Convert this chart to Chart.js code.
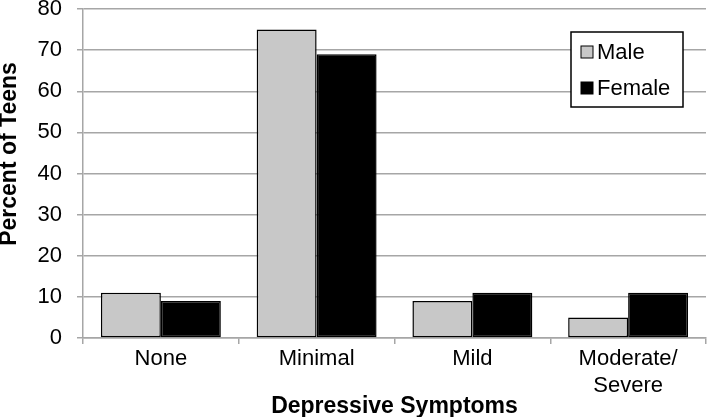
<!DOCTYPE html>
<html>
<head>
<meta charset="utf-8">
<script src="https://cdn.jsdelivr.net/npm/chart.js@4.4.0/dist/chart.umd.min.js"></script>
<style>
  html, body { margin: 0; padding: 0; background: #fff; }
  #wrap { width: 707px; height: 417px; position: relative; }
</style>
</head>
<body>
<div id="wrap"><canvas id="chart"></canvas></div>
<script>
// Data
const categories = ['None', 'Minimal', 'Mild', ['Moderate/', 'Severe']];
const maleValues = [11, 75, 9, 5];
const femaleValues = [9, 69, 11, 11];
const yTicks = [0, 10, 20, 30, 40, 50, 60, 70, 80];
const yTitle = 'Percent of Teens';

const FONT = '"Liberation Sans", Arial, sans-serif';
const GRID = '#a6a6a6';

// Legend boxed inside the plot, top right, plus the y title (sits a bit above centre)
const extras = {
    id: 'extras',
    afterDraw(chart) {
        const ctx = chart.ctx;
        const x = 571, y = 32, w = 112, h = 75;
        ctx.save();
        ctx.fillStyle = '#fff';
        ctx.fillRect(x, y, w, h);
        ctx.strokeStyle = '#000';
        ctx.lineWidth = 1.5;
        ctx.strokeRect(x, y, w, h);
        ctx.font = '22px ' + FONT;
        ctx.textBaseline = 'middle';
        chart.data.datasets.forEach((ds, i) => {
            const cy = y + 20 + i * 36;
            ctx.fillStyle = ds.backgroundColor;
            ctx.fillRect(x + 10, cy - 6, 12, 12);
            ctx.strokeStyle = '#000';
            ctx.lineWidth = 1;
            ctx.strokeRect(x + 10, cy - 6, 12, 12);
            ctx.fillStyle = '#000';
            ctx.fillText(ds.label, x + 26, cy + 1);
        });

        ctx.translate(10, 154);
        ctx.rotate(-Math.PI / 2);
        ctx.font = 'bold 23px ' + FONT;
        ctx.textAlign = 'center';
        ctx.fillStyle = '#000';
        ctx.fillText(yTitle, 0, 0);
        ctx.restore();
    }
};

const ctx = document.getElementById('chart').getContext('2d');
new Chart(ctx, {
    type: 'bar',
    data: {
        labels: categories,
        datasets: [{
            label: 'Male',
            data: maleValues,
            backgroundColor: '#c8c8c8',
            borderColor: '#000',
            borderWidth: 1.5,
            borderSkipped: false
        }, {
            label: 'Female',
            data: femaleValues,
            backgroundColor: '#000',
            borderColor: '#000',
            borderWidth: 1.5,
            borderSkipped: false
        }]
    },
    options: {
        responsive: true,
        maintainAspectRatio: false,
        animation: false,
        datasets: {
            bar: { categoryPercentage: 0.77, barPercentage: 1.0 }
        },
        layout: { padding: { top: 0, right: 1, bottom: 0, left: 0 } },
        plugins: {
            legend: { display: false },
            tooltip: { enabled: false }
        },
        scales: {
            x: {
                afterFit(axis) { axis.height = 79; },
                grid: { drawOnChartArea: false, drawTicks: true, tickLength: 6, color: GRID, lineWidth: 1.5, offset: true },
                border: { color: GRID, width: 1.5 },
                ticks: { color: '#000', font: { family: FONT, size: 22, lineHeight: 1.2 }, padding: 2, maxRotation: 0 },
                title: {
                    display: true,
                    text: 'Depressive Symptoms',
                    color: '#000',
                    font: { family: FONT, size: 23, weight: 'bold', lineHeight: 0.9 },
                    padding: { top: 0, bottom: 0 }
                }
            },
            y: {
                min: 0,
                max: 80,
                afterBuildTicks(axis) {
                    axis.ticks = yTicks.map(v => ({ value: v }));
                },
                afterFit(axis) {
                    axis.width = 83;
                    axis.paddingTop = 9;
                    axis.paddingBottom = 0;
                },
                grid: { color: GRID, lineWidth: 1.5, tickLength: 6 },
                border: { color: GRID, width: 1.5 },
                ticks: { color: '#000', font: { family: FONT, size: 22 }, padding: 15 },
                title: { display: false }
            }
        }
    },
    plugins: [extras]
});
</script>
</body>
</html>
